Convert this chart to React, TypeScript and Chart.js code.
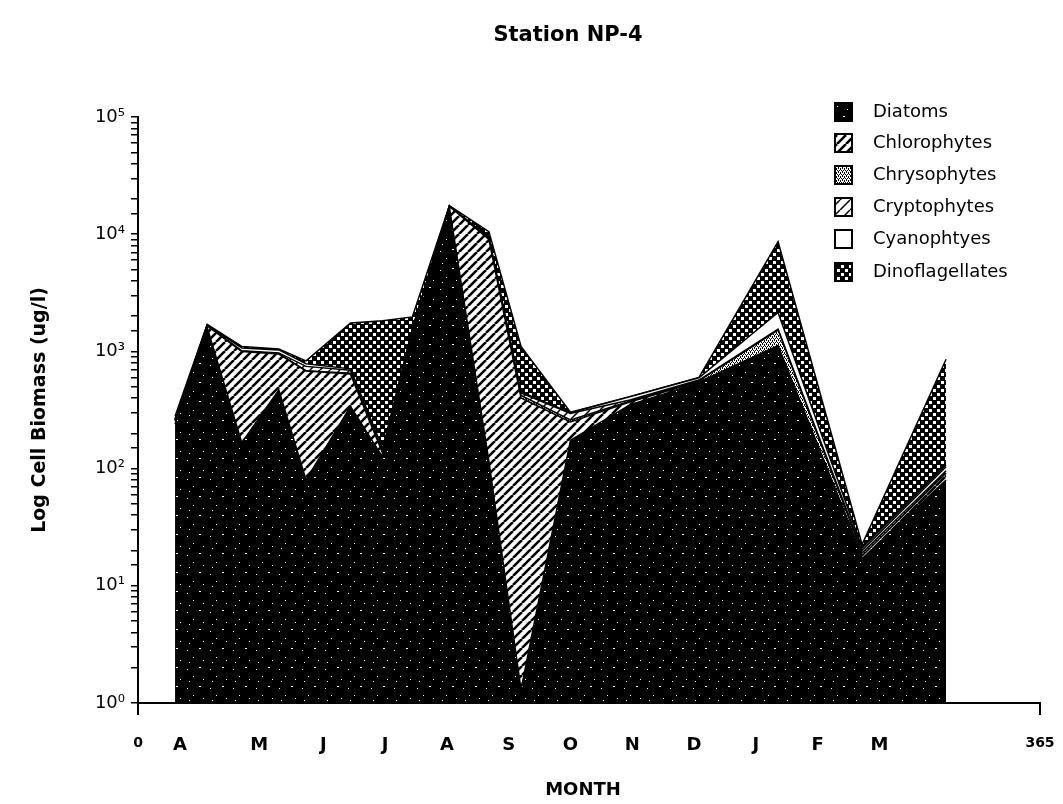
import React, { useEffect, useRef } from "react";
import { Chart, registerables } from "chart.js";
Chart.register(...registerables);

// Sampling days (day of year axis, 0..365)
const sampleDays = [15, 28, 42, 57, 68, 86, 99, 111, 126, 142, 155, 175, 199, 227, 259, 293, 327];
// Biomass per group (ug/l), stacked on a log axis
const diatoms = [240, 1600, 166, 470, 80, 340, 125, 1500, 17000, 115, 1.3, 175, 350, 540, 1100, 17, 80];
const chlorophytes = [15, 50, 830, 480, 600, 300, 10, 20, 300, 8900, 400, 75, 20, 10, 20, 1, 12];
const chrysophytes = [3, 10, 5, 5, 5, 10, 3, 5, 20, 100, 20, 10, 5, 10, 400, 1, 4];
const cryptophytes = [4, 10, 10, 15, 60, 40, 5, 10, 50, 200, 20, 35, 10, 10, 30, 1, 8];
const cyanophytes = [3, 10, 60, 60, 40, 20, 5, 15, 30, 100, 10, 5, 25, 25, 600, 1, 4];
const dinoflagellates = [15, 20, 30, 20, 45, 1040, 1680, 420, 100, 1100, 650, 3, 1, 5, 6500, 1.5, 750];

const seriesNames = ["Diatoms", "Chlorophytes", "Chrysophytes", "Cryptophytes", "Cyanophtyes", "Dinoflagellates"];

const xTickDays = [0, 17, 49, 75, 100, 125, 150, 175, 200, 225, 250, 275, 300, 365];
const xTickLabels = ["0", "A", "M", "J", "J", "A", "S", "O", "N", "D", "J", "F", "M", "365"];

const SUP = ["\u2070", "\u00b9", "\u00b2", "\u00b3", "\u2074", "\u2075"];

function makePattern(w: number, h: number, draw: (c: CanvasRenderingContext2D) => void) {
  const cv = document.createElement("canvas");
  cv.width = w;
  cv.height = h;
  const c = cv.getContext("2d")!;
  draw(c);
  return c.createPattern(cv, "repeat")!;
}

export default function App() {
  const ref = useRef<HTMLCanvasElement | null>(null);

  useEffect(() => {
    document.body.style.margin = "0";
    const canvas = ref.current!;

    const pDiatom = makePattern(23, 19, (c) => {
      c.fillStyle = "#000";
      c.fillRect(0, 0, 23, 19);
      c.fillStyle = "#fff";
      c.fillRect(3, 4, 1, 1);
      c.fillRect(15, 2, 2, 1);
      c.fillRect(9, 11, 1, 1);
      c.fillRect(19, 14, 1, 1);
      c.fillRect(5, 16, 1, 1);
    });
    const hatch = (lw: number, size: number) =>
      makePattern(size, size, (c) => {
        c.fillStyle = "#fff";
        c.fillRect(0, 0, size, size);
        c.strokeStyle = "#000";
        c.lineWidth = lw;
        c.beginPath();
        for (let k = -1; k <= 1; k++) {
          c.moveTo(k * size, size);
          c.lineTo(k * size + size, 0);
        }
        c.stroke();
      });
    const pChloro = hatch(2.6, 9);
    const pCrypto = hatch(1.5, 10);
    const pChryso = makePattern(4, 4, (c) => {
      c.fillStyle = "#fff";
      c.fillRect(0, 0, 4, 4);
      c.fillStyle = "#000";
      c.fillRect(0, 0, 1, 1);
      c.fillRect(2, 0, 1, 1);
      c.fillRect(1, 2, 1, 1);
      c.fillRect(3, 2, 1, 1);
      c.fillRect(0, 1, 1, 1);
      c.fillRect(2, 3, 1, 1);
    });
    const pDino = makePattern(8, 8, (c) => {
      c.fillStyle = "#000";
      c.fillRect(0, 0, 8, 8);
      c.fillStyle = "#fff";
      c.fillRect(1, 1, 3, 3);
      c.fillRect(5, 5, 3, 3);
    });
    const fills: (string | CanvasPattern)[] = [pDiatom, pChloro, pChryso, pCrypto, "#ffffff", pDino];
    const values = [diatoms, chlorophytes, chrysophytes, cryptophytes, cyanophytes, dinoflagellates];

    const datasets = values.map((vals, i) => ({
      label: seriesNames[i],
      data: sampleDays.map((d, j) => ({ x: d, y: vals[j] })),
      backgroundColor: fills[i],
      borderColor: "#000",
      borderWidth: 1.5,
      pointRadius: 0,
      tension: 0,
      fill: i === 0 ? "start" : "-1",
    }));

    const textPlugin = {
      id: "texts",
      afterDraw(chart: any) {
        const ctx = chart.ctx as CanvasRenderingContext2D;
        ctx.save();
        ctx.fillStyle = "#000";
        ctx.textAlign = "center";
        ctx.textBaseline = "middle";
        ctx.font = "bold 21px 'DejaVu Sans'";
        ctx.fillText("Station NP-4", 568, 36);
        ctx.font = "bold 18px 'DejaVu Sans'";
        ctx.fillText("MONTH", 583, 790);
        ctx.save();
        ctx.translate(40, 410);
        ctx.rotate(-Math.PI / 2);
        ctx.font = "bold 19px 'DejaVu Sans'";
        ctx.fillText("Log Cell Biomass (ug/l)", 0, 0);
        ctx.restore();
        // legend
        const rowY = [112, 143, 175, 207, 239, 272];
        ctx.textAlign = "left";
        ctx.font = "18px 'DejaVu Sans'";
        for (let i = 0; i < seriesNames.length; i++) {
          const y = rowY[i];
          ctx.fillStyle = fills[i] as any;
          ctx.fillRect(835, y - 9, 17, 18);
          ctx.strokeStyle = "#000";
          ctx.lineWidth = 2;
          ctx.strokeRect(835, y - 9, 17, 18);
          ctx.fillStyle = "#000";
          ctx.fillText(seriesNames[i], 873, y);
        }
        ctx.restore();
      },
    };

    const chart = new Chart(canvas, {
      type: "line",
      data: { datasets: datasets as any },
      options: {
        animation: false,
        responsive: true,
        maintainAspectRatio: false,
        layout: { padding: { left: 0, top: 117, right: 23, bottom: 0 } },
        plugins: { legend: { display: false }, title: { display: false }, tooltip: { enabled: false } },
        scales: {
          x: {
            type: "linear",
            min: 0,
            max: 365,
            afterFit: (s: any) => {
              s.height = 101;
              s.paddingLeft = 0;
              s.paddingRight = 0;
            },
            afterBuildTicks: (s: any) => {
              s.ticks = xTickDays.map((v) => ({ value: v }));
            },
            ticks: {
              autoSkip: false,
              maxRotation: 0,
              padding: 20,
              color: "#000",
              callback: (_v: any, i: number) => xTickLabels[i],
              font: (ctx: any) =>
                ctx.index === 0 || ctx.index === xTickDays.length - 1
                  ? { family: "'DejaVu Sans'", size: 14, weight: "bold" }
                  : { family: "'DejaVu Sans'", size: 18, weight: "bold" },
            },
            grid: {
              drawOnChartArea: false,
              drawTicks: true,
              tickLength: 12,
              lineWidth: 2,
              color: (ctx: any) =>
                ctx.index === 0 || ctx.index === xTickDays.length - 1 ? "#000" : "rgba(0,0,0,0)",
            },
            border: { display: true, color: "#000", width: 2 },
          },
          y: {
            type: "logarithmic",
            stacked: true,
            min: 1,
            max: 100000,
            afterFit: (s: any) => {
              s.width = 138;
              s.paddingTop = 0;
              s.paddingBottom = 0;
            },
            ticks: {
              autoSkip: false,
              color: "#000",
              padding: 6,
              font: { family: "'DejaVu Sans'", size: 18 },
              callback: (v: any) => {
                const l = Math.log10(Number(v));
                const r = Math.round(l);
                return Math.abs(l - r) < 1e-9 ? "10" + SUP[r] : "";
              },
            },
            grid: {
              drawOnChartArea: false,
              drawTicks: true,
              tickLength: 7,
              lineWidth: 1.5,
              color: "#000",
            },
            border: { display: true, color: "#000", width: 2 },
          },
        },
      },
      plugins: [textPlugin],
    });
    return () => chart.destroy();
  }, []);

  return (
    <div style={{ width: 1063, height: 804, position: "relative", background: "#fff" }}>
      <canvas ref={ref} />
    </div>
  );
}
